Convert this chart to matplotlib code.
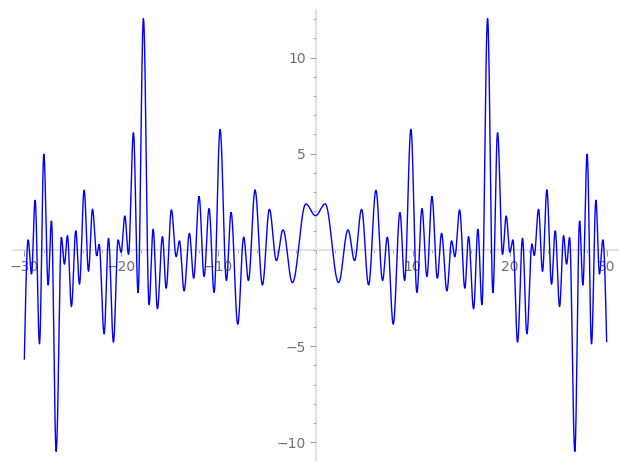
import numpy as np
import matplotlib
matplotlib.use("Agg")
import matplotlib.pyplot as plt
from matplotlib.ticker import MultipleLocator, FixedLocator

# extrema of the curve for x >= 0 (the curve is mirrored for x < 0)
x_ext = [0.0, 1.0, 2.38, 3.35, 4.03, 4.75, 5.47, 6.23, 6.91, 7.40,
         8.01, 8.70, 9.18, 9.83, 10.45, 10.97, 11.48, 12.00, 12.55, 12.99,
         13.54, 14.02, 14.36, 14.85, 15.39, 15.77, 16.29, 16.73, 17.15, 17.73,
         18.28, 18.76, 19.27, 19.65, 20.03, 20.34, 20.82, 21.33, 21.78, 22.30,
         22.54, 22.98, 23.39, 23.84, 24.32, 24.70, 25.15, 25.56, 25.87, 26.18,
         26.72, 27.21, 27.55, 27.99, 28.44, 28.89, 29.26, 29.61]
y_ext = [1.78, 2.39, -1.70, 1.04, -0.55, 2.11, -1.82, 3.10, -1.59, 0.66,
         -3.86, 1.94, -1.59, 6.26, -2.21, 2.15, -1.38, 2.77, -1.47, 0.86,
         -2.13, 0.47, -0.35, 2.08, -1.99, 0.69, -3.06, 1.07, -2.84, 12.02,
         -2.21, 6.09, -0.23, 1.76, -0.12, 0.52, -4.79, 0.60, -4.36, 0.29,
         -0.29, 2.11, -1.09, 3.10, -1.78, 0.99, -2.94, 0.74, -0.74, 0.64,
         -10.47, 1.50, -1.82, 4.97, -4.88, 2.58, -1.25, 0.52]
x_end = 30.0
y_end_left = -5.67
y_end_right = -4.76

# full list of points: left end, mirrored extrema, extrema, right end
xs = [-x_end] + [-v for v in x_ext[:0:-1]] + x_ext + [x_end]
ys = [y_end_left] + y_ext[:0:-1] + y_ext + [y_end_right]

# smooth drawing between the points (half cosine between extrema)
px, py = [], []
n = len(xs)
for i in range(n - 1):
    t = np.linspace(0, 1, 40)
    if i == 0:
        s = np.sin(np.pi * t / 2)          # end point -> first extremum
    elif i == n - 2:
        s = 1 - np.cos(np.pi * t / 2)      # last extremum -> end point
    else:
        s = (1 - np.cos(np.pi * t)) / 2
    px.extend(xs[i] + (xs[i + 1] - xs[i]) * t)
    py.extend(ys[i] + (ys[i + 1] - ys[i]) * s)

fig = plt.figure(figsize=(6.27, 4.70), dpi=100)
ax = fig.add_axes([12.7 / 627, 10 / 470, 605.6 / 627, 450 / 470])
ax.plot(px, py, color="#0000ff", lw=1.0, zorder=3)

ax.set_xlim(-31.2, 31.2)
ax.set_ylim(-10.92, 12.47)

# axes through the origin, like the reference
for side in ["top", "right"]:
    ax.spines[side].set_visible(False)
ax.spines["left"].set_position(("data", 0))
ax.spines["bottom"].set_position(("data", 0))
for side in ["left", "bottom"]:
    ax.spines[side].set_color("#e3e3e3")
    ax.spines[side].set_linewidth(1.6)
    ax.spines[side].set_zorder(1)

ax.xaxis.set_major_locator(FixedLocator([-30, -20, -10, 10, 20, 30]))
ax.yaxis.set_major_locator(FixedLocator([-10, -5, 5, 10]))
ax.xaxis.set_minor_locator(MultipleLocator(2))
ax.yaxis.set_minor_locator(MultipleLocator(1))
ax.tick_params(which="major", length=4, width=0.8, color="#9a9a9a",
               labelcolor="#707070", labelsize=10, pad=3)
ax.tick_params(which="minor", length=2, width=0.6, color="#9a9a9a")

fig.savefig("out.png", dpi=100)
